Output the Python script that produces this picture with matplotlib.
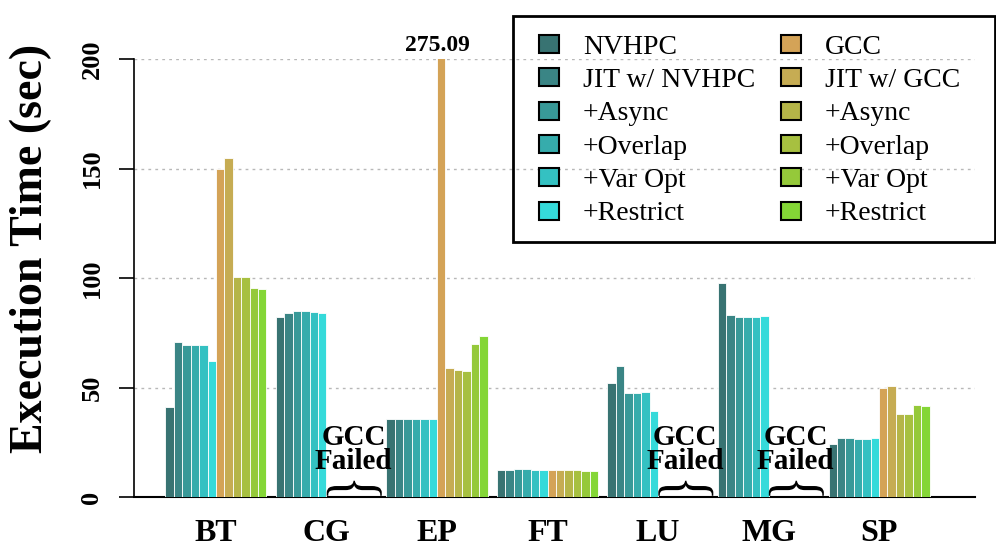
import numpy as np
import matplotlib
matplotlib.use("Agg")
import matplotlib.pyplot as plt
from matplotlib.textpath import TextPath
from matplotlib.patches import PathPatch, Rectangle
from matplotlib.transforms import Affine2D, ScaledTranslation
from matplotlib.font_manager import FontProperties

plt.rcParams['font.family'] = ['Liberation Serif', 'DejaVu Serif']

benchmarks = ["BT", "CG", "EP", "FT", "LU", "MG", "SP"]
series = ["NVHPC", "JIT w/ NVHPC", "+Async", "+Overlap", "+Var Opt", "+Restrict",
          "GCC", "JIT w/ GCC", "+Async", "+Overlap", "+Var Opt", "+Restrict"]
colors = ["#387372", "#3a8585", "#389998", "#36acac", "#34c1c2", "#35dada",
          "#d4a357", "#c6ac53", "#b5b548", "#a7c040", "#95c93a", "#84d636"]

nan = np.nan
times = [
    [41.0, 82.3, 35.5, 12.4, 52.1, 97.6, 24.3],      # NVHPC
    [70.8, 84.0, 35.5, 12.4, 59.6, 83.1, 27.1],      # JIT w/ NVHPC
    [69.6, 85.1, 35.5, 13.0, 47.7, 82.2, 26.8],      # +Async
    [69.6, 84.9, 35.5, 13.0, 47.7, 82.2, 26.6],      # +Overlap
    [69.6, 84.3, 35.5, 12.5, 47.9, 82.1, 26.6],      # +Var Opt
    [62.0, 84.0, 35.5, 12.5, 39.2, 82.8, 27.1],      # +Restrict
    [149.8, nan, 275.09, 12.4, nan, nan, 49.8],      # GCC
    [154.9, nan, 59.0, 12.2, nan, nan, 50.8],        # JIT w/ GCC
    [100.6, nan, 57.8, 12.3, nan, nan, 37.8],        # +Async
    [100.3, nan, 57.5, 12.3, nan, nan, 37.9],        # +Overlap
    [95.4, nan, 69.9, 11.8, nan, nan, 41.9],         # +Var Opt
    [95.2, nan, 73.6, 11.8, nan, nan, 41.4],         # +Restrict
]
failed = ["CG", "LU", "MG"]
ymax = 200


def brace(ax, x, y, length_px, height_px):
    # curly brace with the point facing up, sized in pixels
    tp = TextPath((0, 0), "}", size=10, prop=FontProperties(family="Liberation Serif"))
    bb = tp.get_extents()
    t = (Affine2D().translate(-bb.x0 - bb.width / 2, -bb.y0 - bb.height / 2)
         .scale(height_px / bb.width, length_px / bb.height)
         .rotate_deg(90)
         + ScaledTranslation(x, y, ax.transData))
    ax.add_patch(PathPatch(tp, transform=t, facecolor="black", lw=0, clip_on=False, zorder=5))


fig = plt.figure(figsize=(9.96, 5.52), dpi=100)
ax = fig.add_axes([0.1345, 0.0996, 0.8445, 0.7935])

x = np.arange(len(benchmarks))
w = 0.0762
for k, (name, vals) in enumerate(zip(series, times)):
    ax.bar(x + (k - 5.5) * w, vals, w, color=colors[k], edgecolor="white",
           linewidth=0.6, label=name, zorder=3)

ax.set_ylim(0, ymax)
ax.set_xlim(-0.742, 6.869)

# value of the clipped EP GCC bar
ep = benchmarks.index("EP")
ax.text(ep, ymax + 1.5, f"{times[6][ep]:.2f}", ha="center", va="bottom",
        fontsize=17, fontweight="bold", clip_on=False)

for b in failed:
    i = benchmarks.index(b)
    ax.text(i + 3.2 * w, 21.7, "GCC\nFailed", ha="center", va="center",
            fontsize=21, fontweight="bold", linespacing=0.88, zorder=5)
    brace(ax, i + 3.3 * w, 4.0, 55, 15)

ax.set_xticks(x)
ax.set_xticklabels(benchmarks, fontsize=23, fontweight="bold")
ax.tick_params(axis="x", length=0, pad=16)
ax.set_yticks([0, 50, 100, 150, 200])
ax.set_yticklabels(["0", "50", "100", "150", "200"], fontsize=19, fontweight="bold",
                   rotation=90, va="center")
ax.tick_params(axis="y", length=11, width=1.2, pad=11)
ax.set_ylabel("Execution Time (sec)", fontsize=33, fontweight="bold")
ax.yaxis.set_label_coords(-0.097, 0.568)

ax.yaxis.grid(True, linestyle=(0, (2, 3)), color="#b8b8b8", linewidth=1, zorder=0)
ax.set_axisbelow(True)
for s in ["top", "right"]:
    ax.spines[s].set_visible(False)
ax.spines["left"].set_linewidth(1.2)
ax.spines["bottom"].set_linewidth(1.5)

leg = ax.legend(ncol=2, loc="upper left", bbox_to_anchor=(518 / 996, 1 - 14 / 552),
                bbox_transform=fig.transFigure, fontsize=20, frameon=False,
                handlelength=0.72, handleheight=0.61,
                handletextpad=0.86, columnspacing=0.93, labelspacing=0.3,
                borderpad=0.75, borderaxespad=0)
for h in leg.legend_handles:
    h.set_edgecolor("black")
    h.set_linewidth(1.5)
# legend box is wider than its entries
fig.patches.append(Rectangle((513 / 996, 1 - 242 / 552), 482 / 996, 226 / 552,
                             transform=fig.transFigure, fill=False,
                             edgecolor="black", linewidth=2, zorder=6))

fig.savefig("out.png", dpi=100)
